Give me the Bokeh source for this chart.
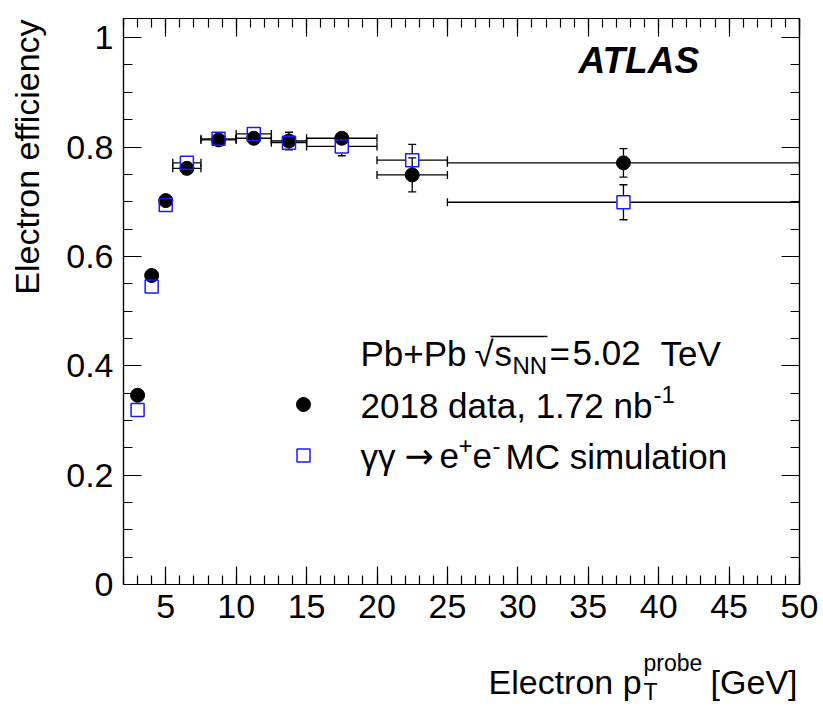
import math
from bokeh.plotting import figure
from bokeh.models import FixedTicker, LinearAxis, Label, Range1d
from bokeh.layouts import column, row
from bokeh.embed import file_html
from bokeh.resources import INLINE

# ---------------- data ----------------
bin_lo = [2.5, 3.5, 4.5, 5.5, 7.5, 10.0, 12.5, 15.0, 20.0, 25.0]
bin_hi = [3.5, 4.5, 5.5, 7.5, 10.0, 12.5, 15.0, 20.0, 25.0, 50.0]
bin_center = [3.0, 4.0, 5.0, 6.5, 8.75, 11.25, 13.75, 17.5, 22.5, 37.5]
data_eff = [0.346, 0.565, 0.702, 0.761, 0.813, 0.816, 0.811, 0.816, 0.749, 0.771]
data_err = [0.005, 0.006, 0.007, 0.008, 0.009, 0.010, 0.016, 0.015, 0.031, 0.026]
mc_eff = [0.319, 0.545, 0.694, 0.771, 0.815, 0.824, 0.808, 0.801, 0.776, 0.699]
mc_err = [0.004, 0.005, 0.006, 0.006, 0.007, 0.008, 0.013, 0.017, 0.029, 0.032]
x_ticks = [5, 10, 15, 20, 25, 30, 35, 40, 45, 50]
x_tick_labels = ["5", "10", "15", "20", "25", "30", "35", "40", "45", "50"]
y_ticks = [0, 0.2, 0.4, 0.6, 0.8, 1.0]
y_tick_labels = ["0", "0.2", "0.4", "0.6", "0.8", "1"]

# ---------------- layout ----------------
W, H = 823, 707
LSTRIP = 60            # width of strip holding the y title
MAIN_H = 640           # height of the main figure (x title strip below)
FL, FR, FT, FB = 123, 799, 18, 584   # frame edges in page pixels
X0, X1 = 2.0, 50.0
Y0, Y1 = 0.0, 1.035
PXX = (FR - FL) / (X1 - X0)
PXY = (FB - FT) / (Y1 - Y0)
SHIFT = 0.35           # empirical baseline correction (fraction of font size)


def px2x(px):
    return X0 + (px - FL) / PXX


def py2y(py):
    return Y0 + (FB - py) / PXY


FONT = "Liberation Sans"
FS = 34      # tick labels / axis titles
TS = 35      # legend texts
SUP = 24     # super/subscripts of legend texts
ASUP = 23    # super/subscripts of axis title
BLUE = "#1a1aff"

p = figure(width=W - LSTRIP, height=MAIN_H, output_backend="svg", toolbar_location=None,
           x_range=Range1d(X0, X1), y_range=Range1d(Y0, Y1),
           min_border_left=FL - LSTRIP, min_border_right=W - FR,
           min_border_top=FT, min_border_bottom=MAIN_H - FB,
           x_axis_location=None, y_axis_location=None)
p.grid.visible = False
p.outline_line_color = "black"
p.outline_line_width = 1.2
p.background_fill_color = "white"
p.border_fill_color = "white"

xt = FixedTicker(ticks=x_ticks, minor_ticks=list(range(2, 51)))
yt = FixedTicker(ticks=y_ticks, minor_ticks=[i * 0.05 for i in range(0, 21)])


def make_axis(ticker, labels, show):
    ax = LinearAxis(ticker=ticker)
    ax.major_tick_in = 18
    ax.major_tick_out = 0
    ax.minor_tick_in = 9
    ax.minor_tick_out = 0
    ax.axis_line_color = "black"
    ax.axis_line_width = 1.2
    ax.major_tick_line_width = 1.2
    ax.minor_tick_line_width = 1.2
    if show:
        ax.major_label_overrides = labels
        ax.major_label_text_font = FONT
        ax.major_label_text_font_size = f"{FS}px"
        ax.major_label_text_color = "black"
    else:
        ax.major_label_text_font_size = "0px"
        ax.major_label_text_alpha = 0
        ax.major_label_standoff = 0
    return ax


xlab = {t: s for t, s in zip(x_ticks, x_tick_labels)}
ylab = {t: s for t, s in zip(y_ticks, y_tick_labels)}

ax_b = make_axis(xt, xlab, True)
ax_b.major_label_standoff = 10
ax_l = make_axis(yt, ylab, True)
ax_l.major_label_standoff = 10
ax_t = make_axis(xt, xlab, False)
ax_r = make_axis(yt, ylab, False)
p.add_layout(ax_b, "below")
p.add_layout(ax_l, "left")
p.add_layout(ax_t, "above")
p.add_layout(ax_r, "right")

# ---------------- error bars ----------------
MARK = 14
HALF = MARK / 2.0
CAP = 4.0


def error_bars(xc, yv, lo, hi, err):
    sx0, sy0, sx1, sy1 = [], [], [], []
    hx, hy = HALF / PXX, HALF / PXY
    cx, cy = CAP / PXX, CAP / PXY
    for x, y, l, h, e in zip(xc, yv, lo, hi, err):
        if (x - l) * PXX - HALF > 1.5:
            sx0 += [l, l]; sy0 += [y, y - cy]; sx1 += [x - hx, l]; sy1 += [y, y + cy]
        if (h - x) * PXX - HALF > 1.5:
            sx0 += [x + hx, h]; sy0 += [y, y - cy]; sx1 += [h, h]; sy1 += [y, y + cy]
        if e * PXY - HALF > 1.5:
            sx0 += [x, x - cx]; sy0 += [y + hy, y + e]; sx1 += [x, x + cx]; sy1 += [y + e, y + e]
            sx0 += [x, x - cx]; sy0 += [y - hy, y - e]; sx1 += [x, x + cx]; sy1 += [y - e, y - e]
    return sx0, sy0, sx1, sy1


for yv, ev in ((mc_eff, mc_err), (data_eff, data_err)):
    a, b, c, d = error_bars(bin_center, yv, bin_lo, bin_hi, ev)
    p.segment(a, b, c, d, line_color="black", line_width=1.3)

p.scatter(bin_center, data_eff, marker="circle", size=MARK, fill_color="black",
          line_color="black")
p.scatter(bin_center, mc_eff, marker="square", size=MARK - 1, fill_color=None,
          line_color=BLUE, line_width=1.5)

# ---------------- texts ----------------


def lab(fig, x, y, text, size, align="left", style="normal", angle=0.0, font=FONT):
    fig.add_layout(Label(x=x, y=y, text=text, text_font=font,
                         text_font_size=f"{size}px", text_align=align,
                         text_baseline="alphabetic", text_font_style=style,
                         text_color="black", angle=angle))


def plab(px, py, text, size=TS, **kw):
    # py is the wanted baseline in page pixels
    lab(p, px2x(px), py2y(py - SHIFT * size), text, size, **kw)


plab(578, 73, "ATLAS", size=37, style="bold italic")

# Pb+Pb sqrt(s_NN)=5.02 TeV
BL1 = 365
plab(360, BL1, "Pb+Pb")
plab(474, BL1, "\u221a")
plab(494, BL1, "s")
plab(512, BL1 + 8, "NN", size=SUP)
plab(549, BL1, "=")
plab(572, BL1, "5.02")
plab(660, BL1, "TeV")
p.segment([px2x(490)], [py2y(336)], [px2x(547)], [py2y(336)], line_color="black", line_width=1.3)

# legend
p.scatter([px2x(303)], [py2y(404)], marker="circle", size=MARK, fill_color="black", line_color="black")
p.scatter([px2x(303)], [py2y(455)], marker="square", size=MARK - 1, fill_color=None,
          line_color=BLUE, line_width=1.5)

plab(360, 417, "2018 data, 1.72 nb")
plab(653, 402, "-1", size=SUP)

BL3 = 468
plab(360, BL3, "\u03b3\u03b3")
plab(404, BL3, "\u2192", font="DejaVu Sans")
plab(439, BL3, "e")
plab(458, BL3 - 15, "+", size=SUP)
plab(472, BL3, "e")
plab(492, BL3 - 15, "-", size=SUP)
plab(505, BL3, "MC simulation")

# ---------------- y title strip ----------------
ys = figure(width=LSTRIP, height=MAIN_H, output_backend="svg", toolbar_location=None,
            x_range=Range1d(0, LSTRIP), y_range=Range1d(MAIN_H, 0),
            min_border=0, x_axis_location=None, y_axis_location=None)
ys.grid.visible = False
ys.outline_line_color = None
lab(ys, 39 - 13, 18 - 17, "Electron efficiency", FS, align="right", angle=math.pi / 2)

# ---------------- x title strip ----------------
xs = figure(width=W, height=H - MAIN_H, output_backend="svg", toolbar_location=None,
            x_range=Range1d(0, W), y_range=Range1d(H, MAIN_H),
            min_border=0, x_axis_location=None, y_axis_location=None)
xs.grid.visible = False
xs.outline_line_color = None


def xlab_(px, py, text, size, **kw):
    lab(xs, px, py - SHIFT * size, text, size, **kw)


xlab_(488, 693, "Electron p", FS)
xlab_(643, 671, "probe", ASUP)
xlab_(643, 700, "T", ASUP)
xlab_(797, 693, "[GeV]", FS, align="right")

layout = column(row(ys, p), xs)
open("out.html", "w").write(file_html(layout, INLINE))
